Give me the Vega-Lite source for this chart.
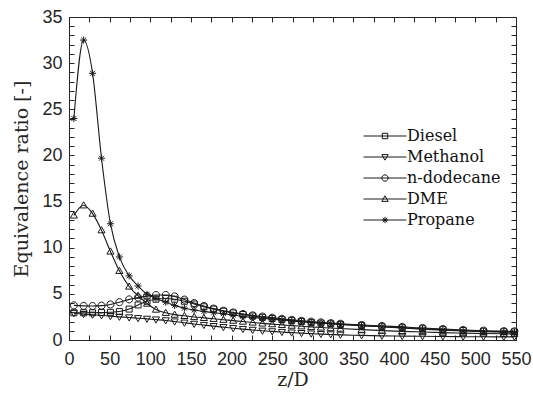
{
  "$schema": "https://vega.github.io/schema/vega-lite/v6.json",
  "width": 447,
  "height": 323,
  "autosize": {"type": "none"},
  "padding": {"left": 69, "top": 17, "right": 17, "bottom": 54},
  "background": "white",
  "config": {
    "view": {"stroke": "#262626", "strokeWidth": 1},
    "axis": {
      "grid": false,
      "domainColor": "#262626",
      "tickColor": "#262626",
      "labelColor": "#262626",
      "titleColor": "#262626",
      "labelFont": "Liberation Sans",
      "labelFontSize": 18,
      "titleFont": "DejaVu Serif",
      "titleFontSize": 19,
      "titleFontWeight": "normal",
      "tickSize": -5,
      "labelOverlap": false,
      "labelFlush": false
    },
    "legend": {
      "labelFont": "DejaVu Serif",
      "labelFontSize": 16,
      "labelColor": "#111111",
      "symbolStrokeColor": "#111111",
      "symbolFillColor": "transparent",
      "symbolStrokeWidth": 1,
      "symbolSize": 40,
      "labelOffset": 14,
      "rowPadding": 5,
      "padding": 0
    }
  },
  "data": {
    "values": [
      {"zD": 6, "phi": 2.95, "fuel": "Diesel"},
      {"zD": 18, "phi": 2.95, "fuel": "Diesel"},
      {"zD": 29, "phi": 2.95, "fuel": "Diesel"},
      {"zD": 40, "phi": 2.97, "fuel": "Diesel"},
      {"zD": 51, "phi": 3.0, "fuel": "Diesel"},
      {"zD": 62, "phi": 3.08, "fuel": "Diesel"},
      {"zD": 74, "phi": 3.35, "fuel": "Diesel"},
      {"zD": 85, "phi": 3.8, "fuel": "Diesel"},
      {"zD": 96, "phi": 4.2, "fuel": "Diesel"},
      {"zD": 107, "phi": 4.42, "fuel": "Diesel"},
      {"zD": 119, "phi": 4.5, "fuel": "Diesel"},
      {"zD": 130, "phi": 4.42, "fuel": "Diesel"},
      {"zD": 142, "phi": 4.2, "fuel": "Diesel"},
      {"zD": 154, "phi": 3.9, "fuel": "Diesel"},
      {"zD": 166, "phi": 3.6, "fuel": "Diesel"},
      {"zD": 178, "phi": 3.35, "fuel": "Diesel"},
      {"zD": 190, "phi": 3.12, "fuel": "Diesel"},
      {"zD": 202, "phi": 2.93, "fuel": "Diesel"},
      {"zD": 214, "phi": 2.76, "fuel": "Diesel"},
      {"zD": 226, "phi": 2.6, "fuel": "Diesel"},
      {"zD": 238, "phi": 2.46, "fuel": "Diesel"},
      {"zD": 250, "phi": 2.33, "fuel": "Diesel"},
      {"zD": 262, "phi": 2.21, "fuel": "Diesel"},
      {"zD": 274, "phi": 2.1, "fuel": "Diesel"},
      {"zD": 286, "phi": 2.0, "fuel": "Diesel"},
      {"zD": 298, "phi": 1.91, "fuel": "Diesel"},
      {"zD": 310, "phi": 1.83, "fuel": "Diesel"},
      {"zD": 322, "phi": 1.76, "fuel": "Diesel"},
      {"zD": 334, "phi": 1.69, "fuel": "Diesel"},
      {"zD": 360, "phi": 1.56, "fuel": "Diesel"},
      {"zD": 385, "phi": 1.44, "fuel": "Diesel"},
      {"zD": 410, "phi": 1.33, "fuel": "Diesel"},
      {"zD": 435, "phi": 1.22, "fuel": "Diesel"},
      {"zD": 460, "phi": 1.12, "fuel": "Diesel"},
      {"zD": 485, "phi": 1.03, "fuel": "Diesel"},
      {"zD": 510, "phi": 0.95, "fuel": "Diesel"},
      {"zD": 535, "phi": 0.9, "fuel": "Diesel"},
      {"zD": 548, "phi": 0.88, "fuel": "Diesel"},

      {"zD": 6, "phi": 2.9, "fuel": "Methanol"},
      {"zD": 18, "phi": 2.8, "fuel": "Methanol"},
      {"zD": 29, "phi": 2.73, "fuel": "Methanol"},
      {"zD": 40, "phi": 2.66, "fuel": "Methanol"},
      {"zD": 51, "phi": 2.58, "fuel": "Methanol"},
      {"zD": 62, "phi": 2.51, "fuel": "Methanol"},
      {"zD": 74, "phi": 2.44, "fuel": "Methanol"},
      {"zD": 85, "phi": 2.36, "fuel": "Methanol"},
      {"zD": 96, "phi": 2.29, "fuel": "Methanol"},
      {"zD": 107, "phi": 2.21, "fuel": "Methanol"},
      {"zD": 119, "phi": 2.12, "fuel": "Methanol"},
      {"zD": 130, "phi": 2.0, "fuel": "Methanol"},
      {"zD": 142, "phi": 1.87, "fuel": "Methanol"},
      {"zD": 154, "phi": 1.74, "fuel": "Methanol"},
      {"zD": 166, "phi": 1.62, "fuel": "Methanol"},
      {"zD": 178, "phi": 1.5, "fuel": "Methanol"},
      {"zD": 190, "phi": 1.39, "fuel": "Methanol"},
      {"zD": 202, "phi": 1.28, "fuel": "Methanol"},
      {"zD": 214, "phi": 1.18, "fuel": "Methanol"},
      {"zD": 226, "phi": 1.09, "fuel": "Methanol"},
      {"zD": 238, "phi": 1.0, "fuel": "Methanol"},
      {"zD": 250, "phi": 0.93, "fuel": "Methanol"},
      {"zD": 262, "phi": 0.86, "fuel": "Methanol"},
      {"zD": 274, "phi": 0.8, "fuel": "Methanol"},
      {"zD": 286, "phi": 0.74, "fuel": "Methanol"},
      {"zD": 298, "phi": 0.69, "fuel": "Methanol"},
      {"zD": 310, "phi": 0.64, "fuel": "Methanol"},
      {"zD": 322, "phi": 0.6, "fuel": "Methanol"},
      {"zD": 334, "phi": 0.56, "fuel": "Methanol"},
      {"zD": 360, "phi": 0.5, "fuel": "Methanol"},
      {"zD": 385, "phi": 0.45, "fuel": "Methanol"},
      {"zD": 410, "phi": 0.42, "fuel": "Methanol"},
      {"zD": 435, "phi": 0.4, "fuel": "Methanol"},
      {"zD": 460, "phi": 0.38, "fuel": "Methanol"},
      {"zD": 485, "phi": 0.36, "fuel": "Methanol"},
      {"zD": 510, "phi": 0.35, "fuel": "Methanol"},
      {"zD": 535, "phi": 0.34, "fuel": "Methanol"},
      {"zD": 548, "phi": 0.34, "fuel": "Methanol"},

      {"zD": 6, "phi": 3.75, "fuel": "n-dodecane"},
      {"zD": 18, "phi": 3.7, "fuel": "n-dodecane"},
      {"zD": 29, "phi": 3.68, "fuel": "n-dodecane"},
      {"zD": 40, "phi": 3.72, "fuel": "n-dodecane"},
      {"zD": 51, "phi": 3.85, "fuel": "n-dodecane"},
      {"zD": 62, "phi": 4.1, "fuel": "n-dodecane"},
      {"zD": 74, "phi": 4.4, "fuel": "n-dodecane"},
      {"zD": 85, "phi": 4.6, "fuel": "n-dodecane"},
      {"zD": 96, "phi": 4.75, "fuel": "n-dodecane"},
      {"zD": 107, "phi": 4.87, "fuel": "n-dodecane"},
      {"zD": 119, "phi": 4.88, "fuel": "n-dodecane"},
      {"zD": 130, "phi": 4.72, "fuel": "n-dodecane"},
      {"zD": 142, "phi": 4.38, "fuel": "n-dodecane"},
      {"zD": 154, "phi": 4.0, "fuel": "n-dodecane"},
      {"zD": 166, "phi": 3.68, "fuel": "n-dodecane"},
      {"zD": 178, "phi": 3.4, "fuel": "n-dodecane"},
      {"zD": 190, "phi": 3.17, "fuel": "n-dodecane"},
      {"zD": 202, "phi": 2.98, "fuel": "n-dodecane"},
      {"zD": 214, "phi": 2.82, "fuel": "n-dodecane"},
      {"zD": 226, "phi": 2.67, "fuel": "n-dodecane"},
      {"zD": 238, "phi": 2.54, "fuel": "n-dodecane"},
      {"zD": 250, "phi": 2.42, "fuel": "n-dodecane"},
      {"zD": 262, "phi": 2.3, "fuel": "n-dodecane"},
      {"zD": 274, "phi": 2.18, "fuel": "n-dodecane"},
      {"zD": 286, "phi": 2.08, "fuel": "n-dodecane"},
      {"zD": 298, "phi": 1.99, "fuel": "n-dodecane"},
      {"zD": 310, "phi": 1.91, "fuel": "n-dodecane"},
      {"zD": 322, "phi": 1.83, "fuel": "n-dodecane"},
      {"zD": 334, "phi": 1.76, "fuel": "n-dodecane"},
      {"zD": 360, "phi": 1.63, "fuel": "n-dodecane"},
      {"zD": 385, "phi": 1.52, "fuel": "n-dodecane"},
      {"zD": 410, "phi": 1.42, "fuel": "n-dodecane"},
      {"zD": 435, "phi": 1.3, "fuel": "n-dodecane"},
      {"zD": 460, "phi": 1.19, "fuel": "n-dodecane"},
      {"zD": 485, "phi": 1.09, "fuel": "n-dodecane"},
      {"zD": 510, "phi": 1.01, "fuel": "n-dodecane"},
      {"zD": 535, "phi": 0.96, "fuel": "n-dodecane"},
      {"zD": 548, "phi": 0.94, "fuel": "n-dodecane"},

      {"zD": 6, "phi": 13.5, "fuel": "DME"},
      {"zD": 18, "phi": 14.6, "fuel": "DME"},
      {"zD": 29, "phi": 13.7, "fuel": "DME"},
      {"zD": 40, "phi": 11.9, "fuel": "DME"},
      {"zD": 51, "phi": 9.6, "fuel": "DME"},
      {"zD": 62, "phi": 7.5, "fuel": "DME"},
      {"zD": 74, "phi": 5.8, "fuel": "DME"},
      {"zD": 85, "phi": 4.8, "fuel": "DME"},
      {"zD": 96, "phi": 3.95, "fuel": "DME"},
      {"zD": 107, "phi": 3.3, "fuel": "DME"},
      {"zD": 119, "phi": 2.95, "fuel": "DME"},
      {"zD": 130, "phi": 2.75, "fuel": "DME"},
      {"zD": 142, "phi": 2.62, "fuel": "DME"},
      {"zD": 154, "phi": 2.5, "fuel": "DME"},
      {"zD": 166, "phi": 2.4, "fuel": "DME"},
      {"zD": 178, "phi": 2.3, "fuel": "DME"},
      {"zD": 190, "phi": 2.2, "fuel": "DME"},
      {"zD": 202, "phi": 2.1, "fuel": "DME"},
      {"zD": 214, "phi": 2.0, "fuel": "DME"},
      {"zD": 226, "phi": 1.9, "fuel": "DME"},
      {"zD": 238, "phi": 1.8, "fuel": "DME"},
      {"zD": 250, "phi": 1.72, "fuel": "DME"},
      {"zD": 262, "phi": 1.64, "fuel": "DME"},
      {"zD": 274, "phi": 1.56, "fuel": "DME"},
      {"zD": 286, "phi": 1.49, "fuel": "DME"},
      {"zD": 298, "phi": 1.42, "fuel": "DME"},
      {"zD": 310, "phi": 1.36, "fuel": "DME"},
      {"zD": 322, "phi": 1.3, "fuel": "DME"},
      {"zD": 334, "phi": 1.24, "fuel": "DME"},
      {"zD": 360, "phi": 1.12, "fuel": "DME"},
      {"zD": 385, "phi": 1.02, "fuel": "DME"},
      {"zD": 410, "phi": 0.93, "fuel": "DME"},
      {"zD": 435, "phi": 0.86, "fuel": "DME"},
      {"zD": 460, "phi": 0.8, "fuel": "DME"},
      {"zD": 485, "phi": 0.75, "fuel": "DME"},
      {"zD": 510, "phi": 0.71, "fuel": "DME"},
      {"zD": 535, "phi": 0.67, "fuel": "DME"},
      {"zD": 548, "phi": 0.66, "fuel": "DME"},

      {"zD": 6, "phi": 24.0, "fuel": "Propane"},
      {"zD": 18, "phi": 32.5, "fuel": "Propane"},
      {"zD": 29, "phi": 28.9, "fuel": "Propane"},
      {"zD": 40, "phi": 19.7, "fuel": "Propane"},
      {"zD": 51, "phi": 12.6, "fuel": "Propane"},
      {"zD": 62, "phi": 9.0, "fuel": "Propane"},
      {"zD": 74, "phi": 6.95, "fuel": "Propane"},
      {"zD": 85, "phi": 5.85, "fuel": "Propane"},
      {"zD": 96, "phi": 4.95, "fuel": "Propane"},
      {"zD": 107, "phi": 4.5, "fuel": "Propane"},
      {"zD": 119, "phi": 4.1, "fuel": "Propane"},
      {"zD": 130, "phi": 3.75, "fuel": "Propane"},
      {"zD": 142, "phi": 3.45, "fuel": "Propane"},
      {"zD": 154, "phi": 3.25, "fuel": "Propane"},
      {"zD": 166, "phi": 3.1, "fuel": "Propane"},
      {"zD": 178, "phi": 2.95, "fuel": "Propane"},
      {"zD": 190, "phi": 2.85, "fuel": "Propane"},
      {"zD": 202, "phi": 2.7, "fuel": "Propane"},
      {"zD": 214, "phi": 2.55, "fuel": "Propane"},
      {"zD": 226, "phi": 2.45, "fuel": "Propane"},
      {"zD": 238, "phi": 2.35, "fuel": "Propane"},
      {"zD": 250, "phi": 2.25, "fuel": "Propane"},
      {"zD": 262, "phi": 2.15, "fuel": "Propane"},
      {"zD": 274, "phi": 2.05, "fuel": "Propane"},
      {"zD": 286, "phi": 1.97, "fuel": "Propane"},
      {"zD": 298, "phi": 1.9, "fuel": "Propane"},
      {"zD": 310, "phi": 1.83, "fuel": "Propane"},
      {"zD": 322, "phi": 1.77, "fuel": "Propane"},
      {"zD": 334, "phi": 1.7, "fuel": "Propane"},
      {"zD": 360, "phi": 1.55, "fuel": "Propane"},
      {"zD": 385, "phi": 1.43, "fuel": "Propane"},
      {"zD": 410, "phi": 1.3, "fuel": "Propane"},
      {"zD": 435, "phi": 1.18, "fuel": "Propane"},
      {"zD": 460, "phi": 1.07, "fuel": "Propane"},
      {"zD": 485, "phi": 0.98, "fuel": "Propane"},
      {"zD": 510, "phi": 0.9, "fuel": "Propane"},
      {"zD": 535, "phi": 0.85, "fuel": "Propane"},
      {"zD": 548, "phi": 0.83, "fuel": "Propane"}
    ]
  },
  "layer": [
    {
      "mark": {"type": "line", "interpolate": "monotone", "strokeWidth": 1.1},
      "encoding": {
        "x": {
          "field": "zD", "type": "quantitative",
          "scale": {"domain": [0, 550], "nice": false},
          "axis": {
            "orient": "bottom",
            "values": [0,25,50,75,100,125,150,175,200,225,250,275,300,325,350,375,400,425,450,475,500,525,550],
            "labelExpr": "datum.value % 50 === 0 ? datum.label : ''",
            "labelPadding": 15,
            "title": "z/D",
            "titlePadding": 2,
            "encode": {"ticks": {"update": {"y2": {"signal": "datum.value % 50 === 0 ? -5 : -3"}}}}
          }
        },
        "y": {
          "field": "phi", "type": "quantitative",
          "scale": {"domain": [0, 35], "nice": false},
          "axis": {
            "orient": "left",
            "values": [0,1,2,3,4,5,6,7,8,9,10,11,12,13,14,15,16,17,18,19,20,21,22,23,24,25,26,27,28,29,30,31,32,33,34,35],
            "labelExpr": "datum.value % 5 === 0 ? datum.label : ''",
            "labelPadding": 12,
            "title": "Equivalence ratio [-]",
            "titlePadding": 10,
            "encode": {"ticks": {"update": {"x2": {"signal": "datum.value % 5 === 0 ? 5 : 3"}}}}
          }
        },
        "color": {
          "field": "fuel", "type": "nominal",
          "scale": {"range": ["#1a1a1a", "#1a1a1a", "#1a1a1a", "#1a1a1a", "#1a1a1a"]},
          "legend": {
            "title": null,
            "orient": "none",
            "legendX": 308,
            "legendY": 111,
            "symbolType": "M-6.8,0L6.8,0",
            "labelExpr": "''"
          }
        }
      }
    },
    {
      "mark": {"type": "point", "filled": false, "stroke": "#1a1a1a", "strokeWidth": 1, "size": 50, "opacity": 1},
      "encoding": {
        "x": {
          "field": "zD", "type": "quantitative",
          "axis": {
            "orient": "top",
            "values": [0,25,50,75,100,125,150,175,200,225,250,275,300,325,350,375,400,425,450,475,500,525,550],
            "labels": false, "domain": false, "title": null,
            "encode": {"ticks": {"update": {"y2": {"signal": "datum.value % 50 === 0 ? 5 : 3"}}}}
          }
        },
        "y": {
          "field": "phi", "type": "quantitative",
          "axis": {
            "orient": "right",
            "values": [0,1,2,3,4,5,6,7,8,9,10,11,12,13,14,15,16,17,18,19,20,21,22,23,24,25,26,27,28,29,30,31,32,33,34,35],
            "labels": false, "domain": false, "title": null,
            "encode": {"ticks": {"update": {"x2": {"signal": "datum.value % 5 === 0 ? -5 : -3"}}}}
          }
        },
        "shape": {
          "field": "fuel", "type": "nominal",
          "scale": {
            "domain": ["Diesel", "Methanol", "n-dodecane", "DME", "Propane"],
            "range": [
              "M-0.85,-0.85L0.85,-0.85L0.85,0.85L-0.85,0.85Z",
              "M-1,-0.75L1,-0.75L0,1Z",
              "M1,0A1,1,0,1,1,-1,0A1,1,0,1,1,1,0Z",
              "M0,-1L1,0.75L-1,0.75Z",
              "M-1,0L1,0M0,-1L0,1M-0.7,-0.7L0.7,0.7M-0.7,0.7L0.7,-0.7"
            ]
          },
          "legend": {
            "title": null,
            "orient": "none",
            "legendX": 308,
            "legendY": 111
          }
        }
      }
    }
  ],
  "resolve": {"axis": {"x": "independent", "y": "independent"}}
}
